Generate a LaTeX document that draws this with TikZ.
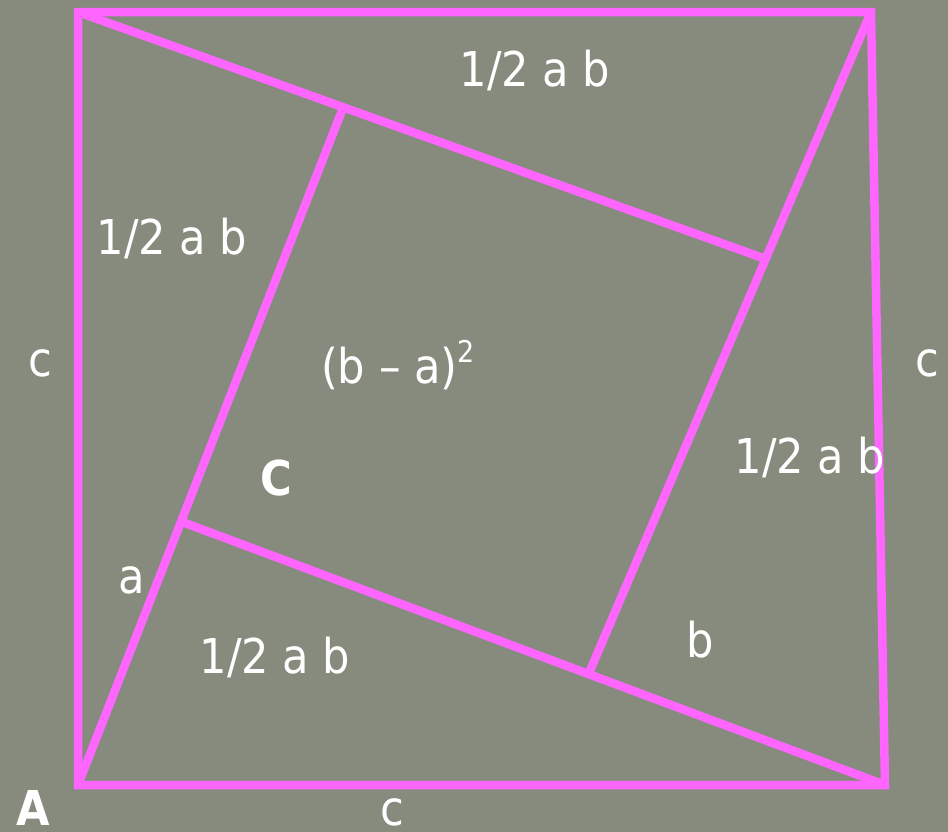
\documentclass[tikz,border=0pt]{standalone}
\usepackage{fontspec}
\setmainfont{DejaVu Sans Condensed}
\usetikzlibrary{positioning}
\definecolor{chalk}{HTML}{868B7D}
\definecolor{pinkline}{HTML}{FF66FF}

\begin{document}
\begin{tikzpicture}[x=1pt, y=-1pt,
    edge/.style={draw=pinkline, line width=8.5pt},
    lbl/.style={text=white, inner sep=0pt, font=\fontsize{48}{50}\selectfont},
    bigl/.style={lbl, font=\fontsize{48}{50}\selectfont\bfseries}]
% Background
\useasboundingbox (0,0) rectangle (948,831);
\fill[chalk] (-5,-5) rectangle (953,836);

% Outer corners
\coordinate (tl) at (78,12);
\coordinate (tr) at (871,12);
\coordinate (br) at (885,785);
\coordinate (bl) at (78,785);
% Inner square corners
\coordinate (q1) at (343,108);
\coordinate (q2) at (763,258);
\coordinate (q3) at (589,673);
\coordinate (q4) at (185,523);

\draw[edge] (tl) -- (q2);
\draw[edge] (tr) -- (q3);
\draw[edge] (br) -- (q4);
\draw[edge] (bl) -- (q1);
\draw[edge, line join=miter] (tl) -- (tr) -- (br) -- (bl) -- cycle;

% Labels
\node[lbl] (halftop) at (535,70) {1/2 a b};
\node[lbl] (halfleft) at (172,238) {1/2 a b};
\node[lbl] (halfright) at (810,457) {1/2 a b};
\node[lbl] (halfbottom) at (275,657) {1/2 a b};
\node[lbl] (square) at (398,365) {(b – a)\raisebox{0.8ex}{\fontsize{30}{32}\selectfont 2}};
\node[lbl] (cleft) at (40,363) {c};
\node[lbl] (cright) at (927,363) {c};
\node[lbl] (cbottom) at (392,812) {c};
\node[lbl] (sidea) at (132,580) {a};
\node[lbl] (sideb) at (700,640) {b};
\node[bigl] (pointc) at (276,478) {C};
\node[bigl] (pointa) at (33,808) {A};
\end{tikzpicture}
\end{document}
